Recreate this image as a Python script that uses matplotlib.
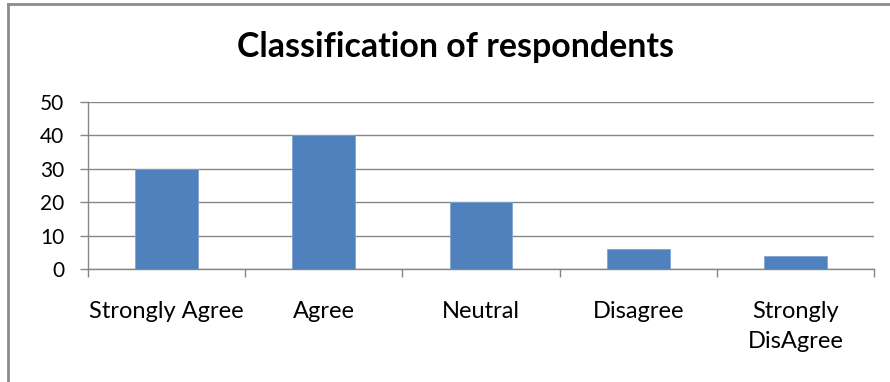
import matplotlib
matplotlib.use("Agg")
import matplotlib.pyplot as plt
from matplotlib.lines import Line2D

categories = ["Strongly Agree", "Agree", "Neutral", "Disagree", "Strongly\nDisAgree"]
values = [30, 40, 20, 6, 4]
y_ticks = [0, 10, 20, 30, 40, 50]
title = "Classification of respondents"

bar_color = "#4F81BD"
axis_color = "#868686"
grid_color = "#868686"

plt.rcParams["font.family"] = ["Lato", "DejaVu Sans"]

fig = plt.figure(figsize=(8.9, 3.82), dpi=100)
W, H = 890, 382
ax = fig.add_axes([88 / W, 1 - 269 / H, (874 - 88) / W, (269 - 102) / H])

x = list(range(len(categories)))
ax.bar(x, values, width=0.4, color=bar_color, edgecolor="#7FA3D0", linewidth=0.6, zorder=3)

ax.set_xlim(-0.5, len(categories) - 0.5)
ax.set_ylim(0, 50)
ax.set_yticks(y_ticks)
ax.set_yticklabels([str(v) for v in y_ticks], fontsize=15)
ax.yaxis.grid(True, color=grid_color, linewidth=1.0, zorder=0)
ax.set_axisbelow(True)

# category labels centred in slots, ticks on slot boundaries
ax.set_xticks(x)
ax.set_xticklabels(categories, fontsize=17, linespacing=1.55)
ax.tick_params(axis="x", which="major", length=0, pad=23)
ax.set_xticks([i - 0.5 for i in range(len(categories) + 1)], minor=True)
ax.tick_params(axis="x", which="minor", length=6, color=axis_color, width=1.0)
ax.tick_params(axis="y", length=6, color=axis_color, width=1.0, pad=11)
for lab in ax.get_xticklabels():
    lab.set_verticalalignment("top")

for side in ("top", "right"):
    ax.spines[side].set_visible(False)
for side in ("left", "bottom"):
    ax.spines[side].set_color(axis_color)
    ax.spines[side].set_linewidth(1.0)

fig.text(456 / W, 1 - 47 / H, title, ha="center", va="center",
         fontsize=24.4, fontweight="bold", color="black")

# outer chart frame
fig.add_artist(Line2D([8 / W, 1.0], [1 - 4 / H, 1 - 4 / H], color="#8C8C8C", linewidth=2.0,
                      transform=fig.transFigure))
fig.add_artist(Line2D([8 / W, 8 / W], [0.0, 1 - 4 / H], color="#8C8C8C", linewidth=2.0,
                      transform=fig.transFigure))

fig.savefig("out.png", dpi=100)
